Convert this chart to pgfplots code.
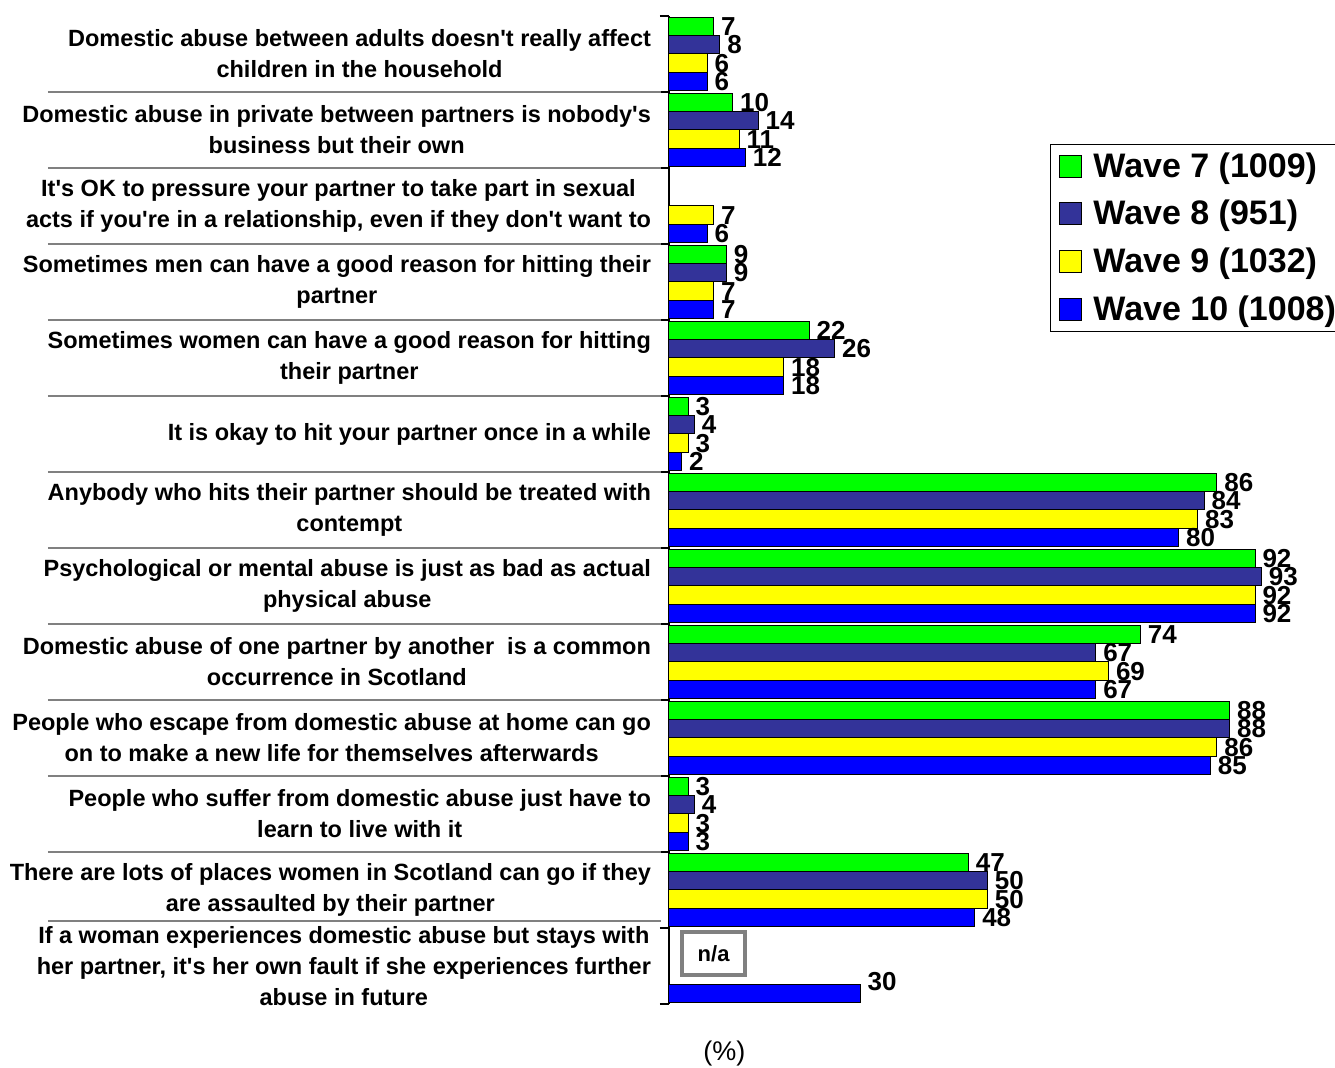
\documentclass[border=0pt]{standalone}
\usepackage{fontspec}
\setmainfont{Liberation Sans}
\usepackage{pgfplots}
\usepackage{pgfplotstable}
\pgfplotsset{compat=1.18}

\definecolor{wseven}{HTML}{00FF00}
\definecolor{weight}{HTML}{333399}
\definecolor{wnine}{HTML}{FFFF00}
\definecolor{wten}{HTML}{0000FF}
\definecolor{sepgray}{HTML}{808080}

\newcommand{\q}{\textquotesingle}

% statement index (0 = top) and percentage agreeing, one table per wave
\pgfplotstableread{
y x
0 7
1 10
3 9
4 22
5 3
6 86
7 92
8 74
9 88
10 3
11 47
}\wavesevendata

\pgfplotstableread{
y x
0 8
1 14
3 9
4 26
5 4
6 84
7 93
8 67
9 88
10 4
11 50
}\waveeightdata

\pgfplotstableread{
y x
0 6
1 11
2 7
3 7
4 18
5 3
6 83
7 92
8 69
9 86
10 3
11 50
}\waveninedata

\pgfplotstableread{
y x
0 6
1 12
2 6
3 7
4 18
5 2
6 80
7 92
8 67
9 85
10 3
11 48
}\wavetendata

\pgfplotstableread{
y x
12 30
}\wavetenextra

\pgfplotsset{
  wbar/.style={
    draw=black, line width=0.5pt,
    legend image code/.code={\draw[##1, line width=0.5pt] (0pt,-5.5pt) rectangle (11pt,5.5pt);}
  }
}

\begin{document}
\begin{tikzpicture}
\useasboundingbox (0,0) rectangle (667.5pt,534pt);
\begin{axis}[
  at={(334.5pt,32pt)}, anchor=south west,
  scale only axis, width=318.5pt, height=494pt,
  xmin=0, xmax=100, ymin=-0.5, ymax=12.5, y dir=reverse,
  axis x line=none, axis y line*=left,
  y axis line style={line width=0.9pt, black},
  xbar, bar width=0.24,
  ytick={0,...,12},
  minor ytick={-0.5,0.5,...,12.5},
  major tick length=0pt, minor tick length=4.5pt,
  tick align=outside,
  minor tick style={line width=0.9pt, black},
  yticklabel style={align=center, font=\fontsize{11.75pt}{15.5pt}\selectfont\bfseries, xshift=-5.5pt},
  yticklabels={
    {Domestic abuse between adults doesn\q{}t really affect\\children in the household},
    {Domestic abuse in private between partners is nobody\q{}s\\business but their own},
    {It\q{}s OK to pressure your partner to take part in sexual\\acts if you\q{}re in a relationship, even if they don\q{}t want to},
    {Sometimes men can have a good reason for hitting their\\partner},
    {Sometimes women can have a good reason for hitting\\their partner},
    {It is okay to hit your partner once in a while},
    {Anybody who hits their partner should be treated with\\contempt},
    {Psychological or mental abuse is just as bad as actual\\physical abuse},
    {Domestic abuse of one partner by another \ is a common\\occurrence in Scotland},
    {People who escape from domestic abuse at home can go\\on to make a new life for themselves afterwards},
    {People who suffer from domestic abuse just have to\\learn to live with it},
    {There are lots of places women in Scotland can go if they\\are assaulted by their partner},
    {If a woman experiences domestic abuse but stays with\\her partner, it\q{}s her own fault if she experiences further\\abuse in future}
  },
  clip=false,
  point meta=x,
  nodes near coords,
  /pgf/number format/assume math mode=true,
  every node near coord/.append style={font=\fontsize{13pt}{13pt}\selectfont\bfseries, black, anchor=west, inner xsep=3.5pt},
  legend style={
    at={(axis cs:59.8,1.184)}, anchor=north west,
    draw=black, line width=0.5pt,
    font=\fontsize{17pt}{18pt}\selectfont\bfseries,
    row sep=6pt, inner xsep=4.5pt, inner ysep=2pt,
    /tikz/every odd column/.append style={column sep=3.5pt}
  },
  legend cell align=left,
]
\addplot[wbar, fill=wseven, bar shift=-0.36] table[x=x, y=y] {\wavesevendata};
\addlegendentry{Wave 7 (1009)}
\addplot[wbar, fill=weight, bar shift=-0.12] table[x=x, y=y] {\waveeightdata};
\addlegendentry{Wave 8 (951)}
\addplot[wbar, fill=wnine, bar shift=0.12] table[x=x, y=y] {\waveninedata};
\addlegendentry{Wave 9 (1032)}
\addplot[wbar, fill=wten, bar shift=0.36] table[x=x, y=y] {\wavetendata};
\addlegendentry{Wave 10 (1008)}
\addplot[wbar, fill=wten, bar shift=0.36, forget plot,
  every node near coord/.append style={yshift=6pt}] table[x=x, y=y] {\wavetenextra};

% separators between the statements
\pgfplotsinvokeforeach{0.5,1.5,...,10.5}{
  \draw[sepgray, line width=1pt] (axis cs:-97.5,#1) -- (axis cs:-1.25,#1);
}
\draw[sepgray, line width=1pt] (axis cs:-97.5,11.41) -- (axis cs:-1.25,11.41);

\node[draw=sepgray, line width=2pt, minimum width=31.5pt, minimum height=21.5pt,
  inner sep=0pt, font=\fontsize{11pt}{12pt}\selectfont\bfseries] at (axis cs:7,11.836) {n/a};

\node[font=\fontsize{13.5pt}{14pt}\selectfont] at (axis cs:8.7,13.15) {(\%)};
\end{axis}
\end{tikzpicture}
\end{document}
